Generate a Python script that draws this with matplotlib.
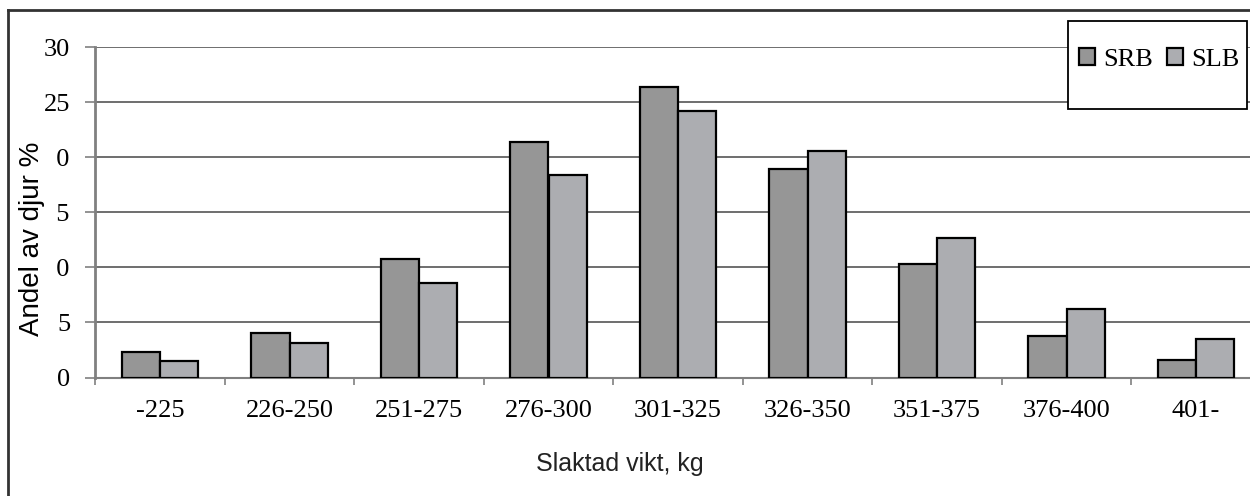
import numpy as np
import matplotlib
matplotlib.use("Agg")
import matplotlib.pyplot as plt
from matplotlib.patches import Patch, Rectangle
from matplotlib.lines import Line2D

categorias = ["-225", "226-250", "251-275", "276-300", "301-325",
              "326-350", "351-375", "376-400", "401-"]
srb = [2.3, 4.0, 10.8, 21.4, 26.4, 18.9, 10.3, 3.8, 1.6]
slb = [1.5, 3.1, 8.6, 18.4, 24.2, 20.6, 12.7, 6.2, 3.5]
yticks = [0, 5, 10, 15, 20, 25, 30]

W, H = 1250, 496
fig = plt.figure(figsize=(12.5, 4.96), dpi=100)
fig.patch.set_facecolor("white")

# plot area (extends slightly past the right edge, as in the original)
ax = fig.add_axes([95.25 / W, 1 - 377.5 / H, 9 * 129.5 / W, 330.5 / H])

x = np.arange(len(categorias))
bw = 0.296
ax.bar(x - bw / 2, srb, width=bw, color="#969696", edgecolor="black", linewidth=1.6, zorder=3)
ax.bar(x + bw / 2, slb, width=bw, color="#acadb1", edgecolor="black", linewidth=1.6, zorder=3)

ax.set_xlim(-0.5, len(categorias) - 0.5)
ax.set_ylim(0, 30)
ax.set_yticks(yticks)
ax.set_yticklabels([str(v) for v in yticks], fontfamily="Liberation Serif", fontsize=19)
ax.tick_params(axis="y", direction="out", length=7.2, width=1.2, color="#808080", pad=10.8)

# ticks between categories, labels at centres
ax.set_xticks(np.arange(len(categorias) + 1) - 0.5)
ax.set_xticklabels([])
ax.set_xticks(x, minor=True)
ax.set_xticklabels(categorias, minor=True, fontfamily="Liberation Serif", fontsize=19)
ax.tick_params(axis="x", which="major", direction="out", length=5, width=1.2, color="#808080")
ax.tick_params(axis="x", which="minor", length=0, pad=16)

ax.grid(axis="y", color="#555555", linewidth=1.2, zorder=0)
ax.set_axisbelow(True)
for s in ["top", "right"]:
    ax.spines[s].set_visible(False)
ax.spines["left"].set_color("#808080")
ax.spines["left"].set_linewidth(2)
ax.spines["bottom"].set_color("#808080")
ax.spines["bottom"].set_linewidth(1.5)

# y label with white box that hides part of the tick labels
fig.text(32 / W, 1 - 239 / H, "Andel av djur %", rotation=90, ha="center", va="center",
         fontfamily="Liberation Sans", fontsize=20, zorder=5,
         bbox=dict(boxstyle="square,pad=0.42", fc="white", ec="none"))
fig.text(620 / W, 1 - 464 / H, "Slaktad vikt, kg", ha="center", va="center",
         fontfamily="Liberation Sans", fontsize=18, color="#222222")

# legend box
fig.patches.append(Rectangle((1068 / W, 1 - 109 / H), 179 / W, 88 / H,
                             transform=fig.transFigure, fc="white", ec="black",
                             linewidth=1.3, zorder=6))
handles = [Patch(facecolor="#969696", edgecolor="black", linewidth=1.6, label="SRB"),
           Patch(facecolor="#acadb1", edgecolor="black", linewidth=1.6, label="SLB")]
leg = fig.legend(handles=handles, loc="upper left", bbox_to_anchor=(1066 / W, 1 - 35 / H),
                 ncol=2, frameon=False, borderpad=0, handlelength=0.6, handleheight=0.6,
                 handletextpad=0.3, columnspacing=0.55,
                 prop={"family": "Liberation Serif", "size": 19})
leg.set_zorder(7)

# outer chart frame (left and top visible)
fig.lines.append(Line2D([7.5 / W, 7.5 / W], [0, 1 - 10 / H], transform=fig.transFigure,
                        color="#333333", linewidth=2, zorder=10))
fig.lines.append(Line2D([7.5 / W, 1], [1 - 10 / H, 1 - 10 / H], transform=fig.transFigure,
                        color="#333333", linewidth=2, zorder=10))

plt.savefig("out.png", dpi=100)
